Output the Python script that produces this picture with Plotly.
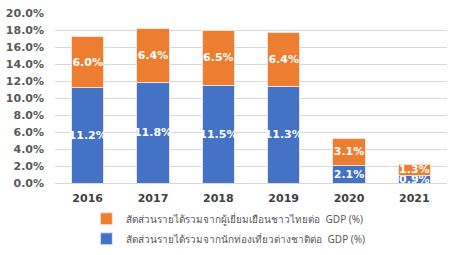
import plotly.graph_objects as go

years = ["2016", "2017", "2018", "2019", "2020", "2021"]
foreign = [0.112, 0.118, 0.115, 0.113, 0.021, 0.009]
thai = [0.060, 0.064, 0.065, 0.064, 0.031, 0.013]
name_foreign = "สัดส่วนรายได้รวมจากนักท่องเที่ยวต่างชาติต่อ  GDP (%)"
name_thai = "สัดส่วนรายได้รวมจากผู้เยี่ยมเยือนชาวไทยต่อ  GDP (%)"

label_font = dict(family="DejaVu Sans", size=11, color="white", weight="bold")

fig = go.Figure()
fig.add_trace(go.Bar(
    x=years, y=foreign, name=name_foreign,
    marker=dict(color="#4472C4", line=dict(color="#DDE6F5", width=1)),
    text=[f"{v*100:.1f}%" for v in foreign],
    textposition="inside", insidetextanchor="middle", textangle=0,
    textfont=label_font, legendrank=2, legendgroup="b",
))
fig.add_trace(go.Bar(
    x=years, y=thai, name=name_thai,
    marker=dict(color="#ED7D31", line=dict(color="#FBE3D4", width=1)),
    text=[f"{v*100:.1f}%" for v in thai],
    textposition="inside", insidetextanchor="middle", textangle=0,
    textfont=label_font, legendrank=1, legendgroup="a",
))

fig.update_layout(
    barmode="stack",
    bargap=0.51,
    width=458, height=255,
    margin=dict(l=55, r=11, t=13, b=72, autoexpand=False),
    plot_bgcolor="white", paper_bgcolor="white",
    uniformtext=dict(minsize=11, mode="show"),
    showlegend=True,
    legend=dict(
        orientation="v", traceorder="grouped", tracegroupgap=1,
        x=0.08, xanchor="left", y=-0.125, yanchor="top",
        font=dict(family="Noto Sans, DejaVu Sans", size=10, color="#595959"),
        itemwidth=30,
    ),
    font=dict(family="DejaVu Sans", color="#595959"),
)
fig.update_yaxes(
    range=[0, 0.2], dtick=0.02, tickformat=".1%",
    showgrid=True, gridcolor="#D9D9D9", gridwidth=1,
    zeroline=True, zerolinecolor="#D9D9D9", zerolinewidth=1,
    tickfont=dict(family="DejaVu Sans", size=11, color="#595959", weight="bold"),
    ticks="", ticklabelstandoff=10,
)
fig.update_xaxes(
    tickfont=dict(family="DejaVu Sans", size=11, color="#404040", weight="bold"),
    showline=False, ticks="", ticklabelstandoff=7,
)

fig.write_html("out.html")
